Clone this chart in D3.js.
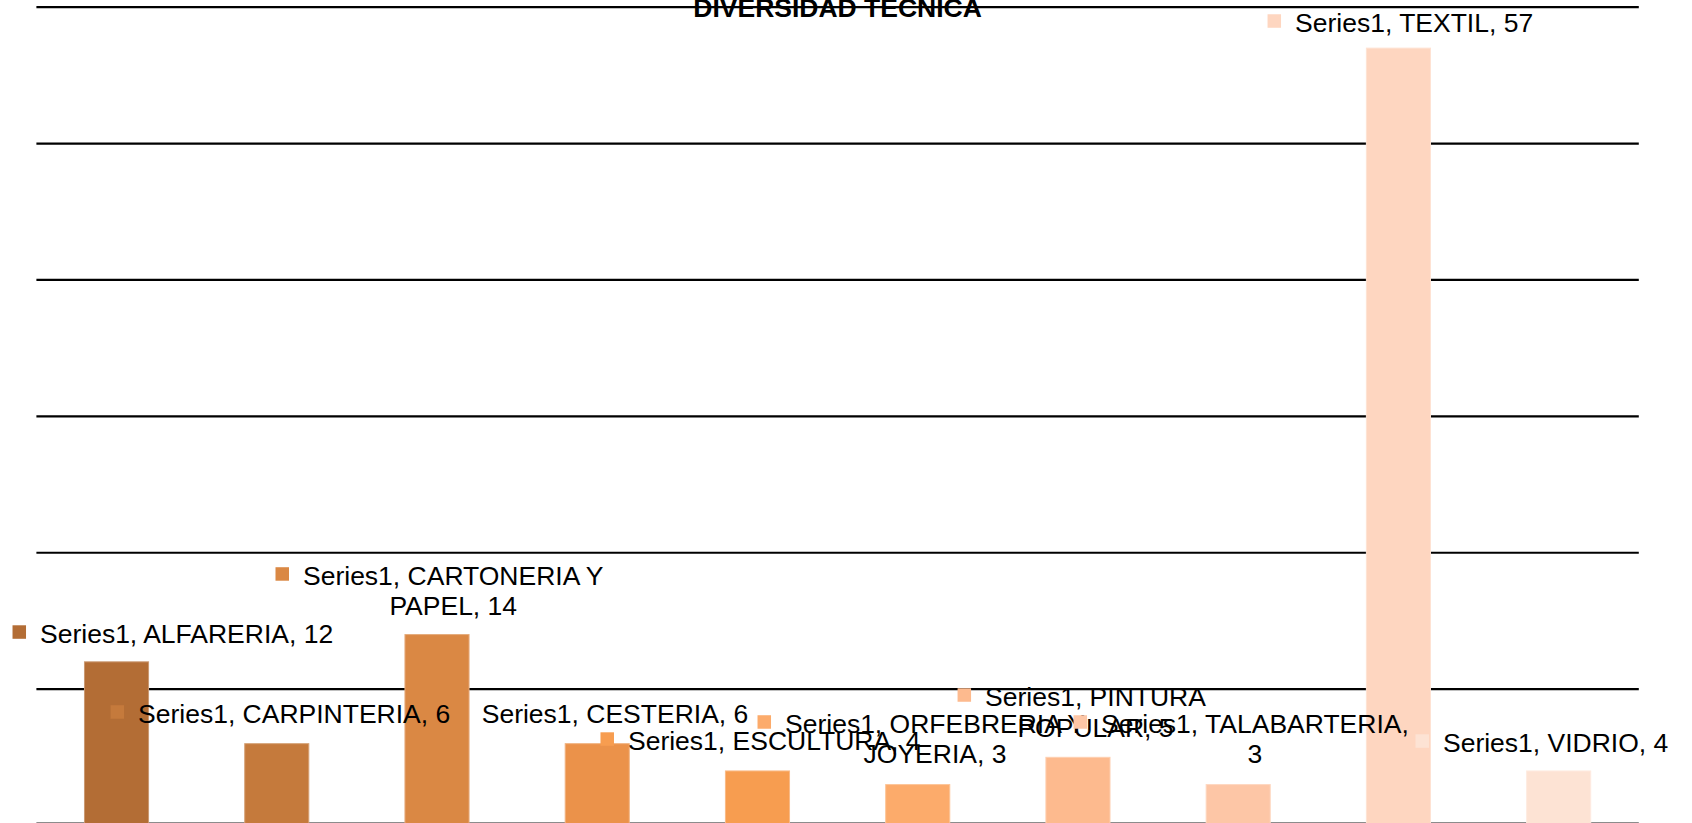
<!DOCTYPE html>
<html>
<head>
<meta charset="utf-8">
<script src="https://cdn.jsdelivr.net/npm/d3@7"></script>
<style>
  body { margin: 0; background: #fff; }
  svg { display: block; font-family: "Liberation Sans", Arial, sans-serif; }
</style>
</head>
<body>
<svg id="svg" width="1692" height="823"></svg>
<script>
// chart data
let title = "DIVERSIDAD TECNICA";
let seriesName = "Series1";
let categories = ["ALFARERIA", "CARPINTERIA", "CARTONERIA Y PAPEL", "CESTERIA", "ESCULTURA",
                  "ORFEBRERIA Y JOYERIA", "PINTURA POPULAR", "TALABARTERIA", "TEXTIL", "VIDRIO"];
let values = [12, 6, 14, 6, 4, 3, 5, 3, 57, 4];
let yTicks = [0, 10, 20, 30, 40, 50, 60];
let barColors = ["#b36d35", "#c57a3c", "#da8844", "#eb924a", "#f79d50",
                 "#fcab6b", "#fdba8e", "#fdc6a6", "#fed6c0", "#fde3d4"];

// where each data label was dragged to (offset from bar centre / bar top, px)
let labelDx = [-76.5, -138.7, -134, -115.5, -129.5, -132.7, -92.9, -137.2, -103.4, -115.7];
let labelDy = [-18.8, -20.7, -49.6, -20.7, -20.9, -51.6, -51.3, -51.6, -16.1, -18.9];
let labelKey = [true, true, true, false, true, true, true, true, true, true];

let width = 1692;
let height = 823;
let plot = {left: 36.4, right: 1638.8, top: 7.2, bottom: 825.5};

let svg = d3.select("#svg");

let x = d3.scaleBand()
    .domain(categories)
    .range([plot.left, plot.right])
    .paddingInner(0.6)
    .paddingOuter(0.3);

let y = d3.scaleLinear()
    .domain([0, 60])
    .range([plot.bottom, plot.top]);

// gridlines
svg.append("g")
    .selectAll("line")
    .data(yTicks.filter(t => t > 0))
    .enter()
    .append("line")
    .attr("x1", plot.left)
    .attr("x2", plot.right)
    .attr("y1", d => y(d))
    .attr("y2", d => y(d))
    .style("stroke", "#000")
    .style("stroke-width", 2.2);

// category axis line (sits right on the bottom edge)
svg.append("line")
    .attr("x1", plot.left)
    .attr("x2", plot.right)
    .attr("y1", y(0) - 3)
    .attr("y2", y(0) - 3)
    .style("stroke", "#8c8c8c")
    .style("stroke-width", 1.2);

// bars
svg.append("g")
    .selectAll("rect")
    .data(categories)
    .enter()
    .append("rect")
    .attr("x", d => x(d))
    .attr("y", (d, i) => y(values[i]))
    .attr("width", x.bandwidth())
    .attr("height", (d, i) => y(0) - y(values[i]))
    .style("fill", (d, i) => barColors[i])
    .style("stroke", (d, i) => d3.interpolateRgb(barColors[i], "#fff")(0.3))
    .style("stroke-width", 1);

// data labels with legend keys
let fontSize = 26.5;
let lineHeight = 30.5;
let wrapWidth = 315;

let labels = svg.append("g");

categories.forEach((cat, i) => {
    let text = `${seriesName}, ${cat}, ${values[i]}`;
    let g = labels.append("g");
    let probe = g.append("text").style("font-size", fontSize + "px");

    // word wrap like the spreadsheet does
    let words = text.split(" ");
    let lines = [];
    let cur = "";
    words.forEach(w => {
        let test = cur ? cur + " " + w : w;
        probe.text(test);
        if (cur && probe.node().getComputedTextLength() > wrapWidth) {
            lines.push(cur);
            cur = w;
        } else {
            cur = test;
        }
    });
    lines.push(cur);

    let widths = lines.map(l => { probe.text(l); return probe.node().getComputedTextLength(); });
    probe.remove();
    let blockW = d3.max(widths);

    let left = x(cat) + x.bandwidth() / 2 + labelDx[i];
    let base = y(values[i]) + labelDy[i];

    if (labelKey[i]) {
        g.append("rect")
            .attr("x", left - 27.5)
            .attr("y", base - 11 - 6.75)
            .attr("width", 13.5)
            .attr("height", 13.5)
            .style("fill", barColors[i]);
    }

    lines.forEach((l, j) => {
        g.append("text")
            .attr("x", left + blockW / 2)
            .attr("y", base + j * lineHeight)
            .attr("text-anchor", "middle")
            .style("font-size", fontSize + "px")
            .style("fill", "#000")
            .text(l);
    });
});

// title
svg.append("text")
    .attr("x", (plot.left + plot.right) / 2)
    .attr("y", 17)
    .attr("text-anchor", "middle")
    .style("font-size", "26.5px")
    .style("font-weight", "bold")
    .style("fill", "#000")
    .text(title);
</script>
</body>
</html>
